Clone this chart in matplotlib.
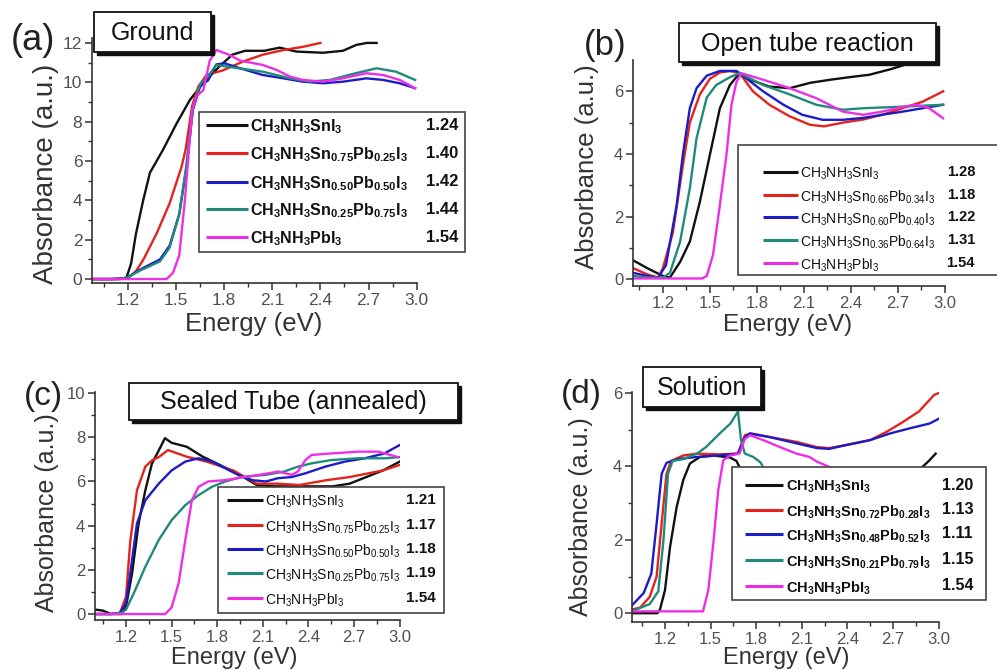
import matplotlib
matplotlib.use('Agg')
import matplotlib.pyplot as plt
from matplotlib.patches import Rectangle

plt.rcParams['font.family'] = ['Liberation Sans', 'DejaVu Sans']
plt.rcParams['mathtext.fontset'] = 'custom'
plt.rcParams['mathtext.rm'] = 'Liberation Sans'
plt.rcParams['mathtext.bf'] = 'Liberation Sans:bold'
plt.rcParams['mathtext.it'] = 'Liberation Sans:italic'

# ---------------- data ----------------
colors = ['#111111', '#e3231c', '#1c1cc4', '#1f8a7c', '#ec2fe6']
x_ticks = [1.2, 1.5, 1.8, 2.1, 2.4, 2.7, 3.0]
x_ticklabels = ['1.2', '1.5', '1.8', '2.1', '2.4', '2.7', '3.0']

# (a) Ground
a_black_E = [0.98, 1.10, 1.19, 1.22, 1.25, 1.295, 1.337, 1.418, 1.503, 1.586, 1.668, 1.77, 1.85, 1.93, 2.05, 2.146, 2.25, 2.416, 2.54, 2.624, 2.69, 2.75]
a_black_A = [0.0, 0.0, 0.05, 0.8, 2.3, 4.0, 5.4, 6.56, 7.9, 9.1, 9.95, 10.8, 11.4, 11.6, 11.6, 11.76, 11.56, 11.5, 11.6, 11.9, 12.0, 12.0]
a_red_E = [0.98, 1.10, 1.20, 1.25, 1.295, 1.378, 1.46, 1.534, 1.56, 1.60, 1.64, 1.69, 1.79, 1.916, 2.04, 2.17, 2.29, 2.40]
a_red_A = [0.0, 0.0, 0.05, 0.4, 0.97, 2.3, 3.85, 5.7, 6.6, 8.8, 9.8, 10.37, 10.6, 11.05, 11.4, 11.64, 11.8, 12.0]
a_blue_E = [0.98, 1.15, 1.20, 1.28, 1.40, 1.46, 1.52, 1.565, 1.605, 1.65, 1.70, 1.75, 1.80, 1.90, 2.04, 2.17, 2.29, 2.416, 2.54, 2.686, 2.79, 2.894, 2.99]
a_blue_A = [0.0, 0.0, 0.1, 0.5, 1.0, 1.7, 3.3, 5.7, 8.6, 9.8, 10.1, 10.9, 10.97, 10.71, 10.37, 10.2, 10.03, 9.95, 10.03, 10.2, 10.12, 9.95, 9.7]
a_teal_E = [0.98, 1.15, 1.20, 1.28, 1.40, 1.46, 1.52, 1.565, 1.605, 1.65, 1.70, 1.75, 1.90, 2.04, 2.21, 2.33, 2.46, 2.62, 2.75, 2.87, 2.99]
a_teal_A = [0.0, 0.0, 0.1, 0.45, 0.9, 1.6, 3.3, 5.8, 8.7, 9.9, 10.3, 10.88, 10.7, 10.54, 10.2, 10.03, 10.12, 10.46, 10.71, 10.54, 10.12]
a_mag_E = [0.98, 1.44, 1.48, 1.52, 1.555, 1.60, 1.628, 1.67, 1.71, 1.752, 1.83, 1.90, 2.04, 2.126, 2.21, 2.29, 2.416, 2.54, 2.686, 2.79, 2.894, 2.99]
a_mag_A = [0.0, 0.0, 0.3, 1.2, 4.0, 8.6, 9.3, 9.6, 11.1, 11.64, 11.4, 11.1, 10.88, 10.63, 10.29, 10.12, 10.03, 10.2, 10.46, 10.37, 10.12, 9.7]

# (b) Open tube reaction
b_black_E = [1.01, 1.10, 1.20, 1.245, 1.31, 1.372, 1.436, 1.50, 1.564, 1.628, 1.69, 1.77, 1.88, 2.01, 2.14, 2.27, 2.39, 2.52, 2.65, 2.78, 2.85, 2.95, 3.0]
b_black_A = [0.6, 0.35, 0.1, 0.05, 0.55, 1.2, 2.47, 3.97, 5.46, 6.2, 6.58, 6.35, 6.15, 6.1, 6.27, 6.37, 6.45, 6.53, 6.7, 6.9, 7.05, 7.3, 7.4]
b_red_E = [1.01, 1.10, 1.17, 1.20, 1.264, 1.328, 1.372, 1.436, 1.50, 1.564, 1.628, 1.69, 1.775, 1.88, 2.01, 2.14, 2.23, 2.35, 2.48, 2.60, 2.73, 2.86, 2.99]
b_red_A = [0.35, 0.15, 0.05, 0.35, 1.5, 3.65, 5.0, 5.9, 6.4, 6.6, 6.65, 6.58, 6.0, 5.57, 5.2, 4.93, 4.88, 5.0, 5.1, 5.25, 5.46, 5.67, 6.0]
b_blue_E = [1.01, 1.10, 1.17, 1.22, 1.288, 1.328, 1.372, 1.415, 1.48, 1.564, 1.67, 1.71, 1.84, 1.97, 2.09, 2.22, 2.35, 2.48, 2.60, 2.73, 2.86, 2.99]
b_blue_A = [0.2, 0.1, 0.05, 0.45, 2.37, 4.0, 5.46, 6.1, 6.5, 6.65, 6.65, 6.5, 6.0, 5.57, 5.25, 5.09, 5.09, 5.15, 5.25, 5.35, 5.46, 5.57]
b_teal_E = [1.01, 1.10, 1.20, 1.245, 1.31, 1.372, 1.415, 1.48, 1.54, 1.628, 1.69, 1.84, 2.01, 2.18, 2.35, 2.48, 2.69, 2.99]
b_teal_A = [0.1, 0.05, 0.05, 0.2, 1.2, 2.9, 4.5, 5.8, 6.2, 6.45, 6.58, 6.2, 5.9, 5.57, 5.41, 5.46, 5.5, 5.57]
b_mag_E = [1.01, 1.45, 1.48, 1.52, 1.564, 1.606, 1.638, 1.67, 1.70, 1.84, 2.01, 2.18, 2.35, 2.48, 2.60, 2.73, 2.82, 2.90, 2.99]
b_mag_A = [0.02, 0.02, 0.1, 0.77, 2.37, 3.97, 5.57, 6.3, 6.58, 6.37, 6.1, 5.78, 5.35, 5.25, 5.35, 5.5, 5.57, 5.46, 5.14]

# (c) Sealed tube (annealed)
c_black_E = [1.0, 1.05, 1.10, 1.17, 1.20, 1.24, 1.283, 1.327, 1.37, 1.415, 1.456, 1.50, 1.60, 1.705, 1.817, 1.95, 2.06, 2.17, 2.34, 2.56, 2.67, 2.78, 2.89, 3.0]
c_black_A = [0.2, 0.15, 0.0, 0.0, 0.33, 1.85, 4.1, 5.6, 6.8, 7.4, 7.96, 7.75, 7.57, 7.12, 6.75, 6.29, 5.84, 5.78, 5.78, 5.78, 5.9, 6.2, 6.5, 6.9]
c_red_E = [1.0, 1.10, 1.16, 1.20, 1.228, 1.272, 1.327, 1.37, 1.415, 1.476, 1.60, 1.73, 1.905, 2.06, 2.20, 2.34, 2.52, 2.67, 2.78, 2.89, 3.0]
c_red_A = [0.0, 0.0, 0.05, 0.78, 3.3, 5.6, 6.67, 6.95, 7.1, 7.42, 7.12, 6.9, 6.5, 5.9, 5.9, 5.84, 6.06, 6.2, 6.35, 6.5, 6.75]
c_blue_E = [1.0, 1.10, 1.16, 1.20, 1.228, 1.272, 1.327, 1.415, 1.50, 1.59, 1.677, 1.765, 1.852, 1.94, 2.03, 2.12, 2.20, 2.29, 2.38, 2.51, 2.64, 2.77, 2.90, 3.0]
c_blue_A = [0.0, 0.0, 0.05, 0.5, 1.85, 4.1, 5.15, 5.9, 6.5, 6.9, 7.05, 6.9, 6.6, 6.29, 6.06, 6.0, 6.15, 6.2, 6.37, 6.67, 6.9, 7.05, 7.27, 7.65]
c_teal_E = [1.0, 1.10, 1.17, 1.20, 1.26, 1.327, 1.415, 1.50, 1.59, 1.677, 1.765, 1.852, 1.96, 2.12, 2.24, 2.33, 2.42, 2.55, 2.73, 2.90, 3.0]
c_teal_A = [0.0, 0.0, 0.05, 0.2, 1.08, 2.14, 3.35, 4.25, 4.93, 5.38, 5.76, 6.0, 6.2, 6.3, 6.45, 6.67, 6.82, 6.97, 7.05, 7.05, 7.1]
c_mag_E = [1.0, 1.458, 1.50, 1.546, 1.59, 1.633, 1.677, 1.74, 1.852, 1.98, 2.12, 2.20, 2.29, 2.33, 2.38, 2.42, 2.55, 2.73, 2.86, 2.99]
c_mag_A = [0.0, 0.0, 0.3, 1.4, 3.35, 5.15, 5.76, 6.0, 6.06, 6.2, 6.35, 6.45, 6.3, 6.45, 6.97, 7.2, 7.27, 7.35, 7.35, 7.1]

# (d) Solution
d_black_E = [0.98, 1.15, 1.167, 1.20, 1.233, 1.277, 1.32, 1.364, 1.43, 1.52, 1.63, 1.67, 1.70, 1.80, 2.00, 2.30, 2.60, 2.80, 2.87, 2.94, 2.98]
d_black_A = [0.0, 0.0, 0.1, 0.63, 1.8, 2.9, 3.63, 4.08, 4.26, 4.3, 4.24, 4.15, 3.9, 3.7, 3.5, 3.4, 3.5, 3.75, 3.9, 4.17, 4.35]
d_red_E = [0.98, 1.036, 1.10, 1.145, 1.178, 1.21, 1.24, 1.32, 1.41, 1.55, 1.68, 1.725, 1.76, 1.89, 2.065, 2.196, 2.28, 2.41, 2.55, 2.66, 2.76, 2.87, 2.97, 3.0]
d_red_A = [0.1, 0.15, 0.45, 1.0, 2.45, 3.8, 4.15, 4.3, 4.35, 4.33, 4.35, 4.85, 4.9, 4.8, 4.67, 4.53, 4.5, 4.6, 4.72, 4.95, 5.2, 5.5, 5.95, 6.0]
d_blue_E = [0.98, 1.06, 1.11, 1.145, 1.178, 1.21, 1.28, 1.41, 1.55, 1.68, 1.725, 1.76, 1.89, 2.065, 2.20, 2.28, 2.41, 2.55, 2.68, 2.81, 2.94, 3.0]
d_blue_A = [0.2, 0.55, 1.08, 2.45, 3.8, 4.1, 4.2, 4.26, 4.3, 4.35, 4.8, 4.9, 4.8, 4.63, 4.5, 4.48, 4.6, 4.72, 4.9, 5.04, 5.17, 5.3]
d_teal_E = [0.98, 1.10, 1.156, 1.19, 1.22, 1.25, 1.32, 1.41, 1.47, 1.56, 1.63, 1.68, 1.70, 1.725, 1.78, 1.81, 1.83, 1.856, 1.95, 2.30, 2.70, 3.0]
d_teal_A = [0.05, 0.25, 0.6, 2.0, 3.8, 4.15, 4.2, 4.35, 4.53, 4.9, 5.17, 5.5, 4.72, 4.35, 4.26, 4.17, 4.1, 3.9, 3.6, 3.4, 3.4, 3.5]
d_mag_E = [0.98, 1.45, 1.485, 1.52, 1.55, 1.583, 1.63, 1.69, 1.725, 1.76, 1.845, 1.955, 2.065, 2.15, 2.20, 2.28, 2.40, 2.70, 3.0]
d_mag_A = [0.05, 0.05, 0.63, 2.0, 3.35, 4.17, 4.3, 4.35, 4.75, 4.85, 4.72, 4.53, 4.35, 4.26, 4.13, 3.99, 3.8, 3.6, 3.5]

# legend labels and band gaps
a_labels = [r'$\mathbf{CH_3NH_3SnI_3}$', r'$\mathbf{CH_3NH_3Sn_{0.75}Pb_{0.25}I_3}$',
            r'$\mathbf{CH_3NH_3Sn_{0.50}Pb_{0.50}I_3}$', r'$\mathbf{CH_3NH_3Sn_{0.25}Pb_{0.75}I_3}$',
            r'$\mathbf{CH_3NH_3PbI_3}$']
a_gaps = ['1.24', '1.40', '1.42', '1.44', '1.54']
b_labels = [r'$\mathrm{CH_3NH_3SnI_3}$', r'$\mathrm{CH_3NH_3Sn_{0.66}Pb_{0.34}I_3}$',
            r'$\mathrm{CH_3NH_3Sn_{0.60}Pb_{0.40}I_3}$', r'$\mathrm{CH_3NH_3Sn_{0.36}Pb_{0.64}I_3}$',
            r'$\mathrm{CH_3NH_3PbI_3}$']
b_gaps = ['1.28', '1.18', '1.22', '1.31', '1.54']
c_labels = [r'$\mathrm{CH_3NH_3SnI_3}$', r'$\mathrm{CH_3NH_3Sn_{0.75}Pb_{0.25}I_3}$',
            r'$\mathrm{CH_3NH_3Sn_{0.50}Pb_{0.50}I_3}$', r'$\mathrm{CH_3NH_3Sn_{0.25}Pb_{0.75}I_3}$',
            r'$\mathrm{CH_3NH_3PbI_3}$']
c_gaps = ['1.21', '1.17', '1.18', '1.19', '1.54']
d_labels = [r'$\mathbf{CH_3NH_3SnI_3}$', r'$\mathbf{CH_3NH_3Sn_{0.72}Pb_{0.28}I_3}$',
            r'$\mathbf{CH_3NH_3Sn_{0.48}Pb_{0.52}I_3}$', r'$\mathbf{CH_3NH_3Sn_{0.21}Pb_{0.79}I_3}$',
            r'$\mathbf{CH_3NH_3PbI_3}$']
d_gaps = ['1.20', '1.13', '1.11', '1.15', '1.54']

titles = ['Ground', 'Open tube reaction', 'Sealed Tube (annealed)', 'Solution']
letters = ['(a)', '(b)', '(c)', '(d)']
xlabel = 'Energy (eV)'
ylabel = 'Absorbance (a.u.)'

# ---------------- layout (pixels) ----------------
W, H = 997, 670
fig = plt.figure(figsize=(W / 100, H / 100), dpi=100)


def add_axes_px(l, t, r, b):
    return fig.add_axes([l / W, 1 - b / H, (r - l) / W, (b - t) / H])


panels = [
    dict(box=(92, 38, 417, 283), xlim=(0.976, 3.002), ylim=(-0.2, 12.25), yt=[0, 2, 4, 6, 8, 10, 12],
         series=[(a_black_E, a_black_A), (a_red_E, a_red_A), (a_blue_E, a_blue_A), (a_teal_E, a_teal_A), (a_mag_E, a_mag_A)],
         tfs=12.5),
    dict(box=(633, 60, 945, 286), xlim=(1.009, 3.002), ylim=(-0.22, 7.0), yt=[0, 2, 4, 6],
         series=[(b_black_E, b_black_A), (b_red_E, b_red_A), (b_blue_E, b_blue_A), (b_teal_E, b_teal_A), (b_mag_E, b_mag_A)],
         tfs=12),
    dict(box=(95, 392, 400, 620), xlim=(0.996, 3.002), ylim=(-0.27, 10.05), yt=[0, 2, 4, 6, 8, 10],
         series=[(c_black_E, c_black_A), (c_red_E, c_red_A), (c_blue_E, c_blue_A), (c_teal_E, c_teal_A), (c_mag_E, c_mag_A)],
         tfs=12),
    dict(box=(632, 392, 939, 622), xlim=(0.983, 3.002), ylim=(-0.24, 6.03), yt=[0, 2, 4, 6],
         series=[(d_black_E, d_black_A), (d_red_E, d_red_A), (d_blue_E, d_blue_A), (d_teal_E, d_teal_A), (d_mag_E, d_mag_A)],
         tfs=12),
]

for p in panels:
    ax = add_axes_px(*p['box'])
    for (E, A), c in zip(p['series'], colors):
        ax.plot(E, A, color=c, lw=1.7, solid_joinstyle='round')
    ax.set_xlim(*p['xlim'])
    ax.set_ylim(*p['ylim'])
    ax.set_xticks(x_ticks)
    ax.set_xticklabels(x_ticklabels)
    ax.set_xticks([t + 0.15 for t in [0.9] + x_ticks[:-1]], minor=True)
    ax.set_yticks(p['yt'])
    ax.set_yticklabels([str(v) for v in p['yt']])
    ax.set_yticks([v + 1 for v in p['yt'][:-1]], minor=True)
    for s in ['top', 'right']:
        ax.spines[s].set_visible(False)
    for s in ['left', 'bottom']:
        ax.spines[s].set_color('#333333')
        ax.spines[s].set_linewidth(1.2)
    ax.tick_params(which='major', direction='out', length=5, width=1.1, color='#333333',
                   labelcolor='#505050', labelsize=p['tfs'], pad=2)
    ax.tick_params(which='minor', direction='out', length=3, width=1.0, color='#333333')
    ax.patch.set_alpha(0)

# overlay in pixel coordinates for annotations
ov = fig.add_axes([0, 0, 1, 1], zorder=10)
ov.set_xlim(0, W)
ov.set_ylim(H, 0)
ov.axis('off')


def title_box(l, t, r, b, text, fs=18):
    ov.add_patch(Rectangle((l + 3, t + 3), r - l, b - t, facecolor='#111111', edgecolor='#111111', lw=1))
    ov.add_patch(Rectangle((l, t), r - l, b - t, facecolor='white', edgecolor='#111111', lw=1.3))
    ov.text((l + r) / 2, (t + b) / 2 + 1, text, ha='center', va='center', fontsize=fs, color='#111111')


title_box(94, 12, 211, 52, titles[0])
title_box(679, 23, 936, 62, titles[1])
title_box(129, 383, 458, 420, titles[2])
title_box(643, 367, 761, 407, titles[3])

for (x, y, fs), s in zip([(33, 40, 26), (605, 45, 25), (43, 397, 24), (581, 395, 24)], letters):
    ov.text(x, y, s, ha='center', va='center', fontsize=fs, color='#222222')

for (x, y, fs) in [(46, 174, 20), (587, 167, 18.5), (47, 513, 18), (581, 517, 18)]:
    ov.text(x, y, ylabel, ha='center', va='center', rotation=90, fontsize=fs, color='#333333')
for (x, y, fs) in [(254, 331, 18.5), (788, 331, 17.5), (234, 664, 17), (786, 664, 17)]:
    ov.text(x, y, xlabel, ha='center', va='baseline', fontsize=fs, color='#333333')


def legend_box(box, rows, line_x, text_x, num_r, labels, gaps, fs, nfs):
    l, t, r, b = box
    ov.add_patch(Rectangle((l, t), r - l, b - t, facecolor='white', edgecolor='#444444', lw=1.2))
    for y, lab, g, c in zip(rows, labels, gaps, colors):
        ov.plot(line_x, [y, y], color=c, lw=2.2, solid_capstyle='butt')
        ov.text(text_x, y + 2, lab, ha='left', va='center', fontsize=fs, color='#111111')
        ov.text(num_r, y, g, ha='right', va='center', fontsize=nfs, fontweight='bold', color='#111111')


legend_box((199, 112, 465, 252), [125, 153, 182, 209, 237], [206, 248], 250, 458, a_labels, a_gaps, 11.5, 12)
legend_box((738, 145, 1000, 275), [172, 195, 217, 240, 263], [763, 798], 800, 975, b_labels, b_gaps, 10, 10.5)
legend_box((218, 487, 444, 613), [500, 525, 549, 573, 598], [227, 263], 265, 436, c_labels, c_gaps, 10, 11)
legend_box((732, 467, 986, 600), [485, 510, 534, 560, 586], [745, 783], 786, 973, d_labels, d_gaps, 10.5, 11.5)

fig.savefig('out.png', dpi=100)
